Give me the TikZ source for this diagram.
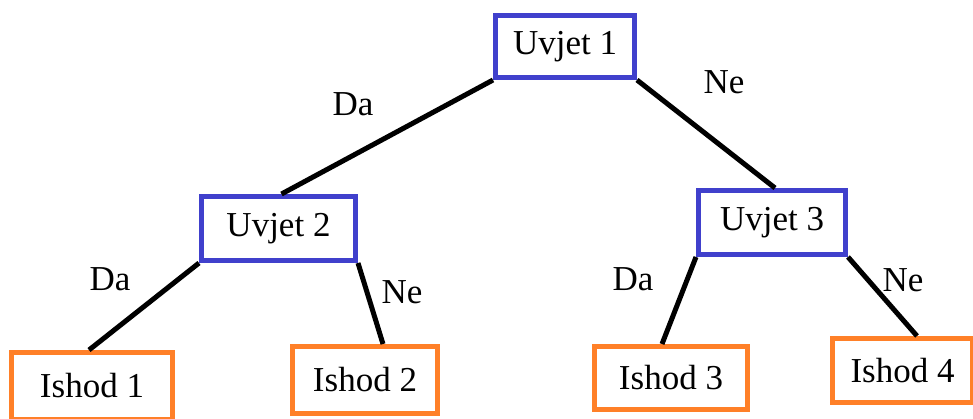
\documentclass[tikz,border=0pt]{standalone}
\usepackage{fontspec}
\setmainfont{Liberation Serif}
\usetikzlibrary{calc}
\definecolor{condblue}{RGB}{64,64,204}
\definecolor{outorange}{RGB}{255,128,40}
\begin{document}
\begin{tikzpicture}[x=1pt,y=-1pt,
  every node/.style={font=\fontsize{35}{40}\selectfont},
  cond/.style={draw=condblue,line width=5pt,fill=white,inner sep=0pt},
  outc/.style={draw=outorange,line width=5pt,fill=white,inner sep=0pt},
  edge/.style={line width=5pt,black},
  lab/.style={inner sep=0pt}]
\useasboundingbox (0,0) rectangle (973,418);
% conditions
\node[cond,minimum width=139pt,minimum height=62pt] (u1) at (565,46.5) {Uvjet 1};
\node[cond,minimum width=154pt,minimum height=64pt] (u2) at (278.5,228.5) {Uvjet 2};
\node[cond,minimum width=147pt,minimum height=64pt] (u3) at (772,222.5) {Uvjet 3};
% outcomes
\node[outc,minimum width=161pt,minimum height=67pt] (i1) at (92,386) {Ishod 1};
\node[outc,minimum width=145pt,minimum height=67pt] (i2) at (365,380) {Ishod 2};
\node[outc,minimum width=153pt,minimum height=63pt] (i3) at (671,378) {Ishod 3};
\node[outc,minimum width=140pt,minimum height=64pt] (i4) at (902.5,370.5) {Ishod 4};
% connectors
\draw[edge] (u1.south west) -- ($(u2.north)+(3,0)$);
\draw[edge] (u1.south east) -- ($(u3.north)+(3,0)$);
\draw[edge] (u2.south west) -- ($(i1.north)+(-3,0)$);
\draw[edge] (u2.south east) -- ($(i2.north)+(18,0)$);
\draw[edge] (u3.south west) -- ($(i3.north)+(-9,0)$);
\draw[edge] (u3.south east) -- ($(i4.north)+(14.5,0)$);
% labels
\node[lab] (l1) at (353,104) {Da};
\node[lab] (l2) at (724,82) {Ne};
\node[lab] (l3) at (110,279) {Da};
\node[lab] (l4) at (402,292) {Ne};
\node[lab] (l5) at (633,279) {Da};
\node[lab] (l6) at (903,280) {Ne};
\end{tikzpicture}
\end{document}
